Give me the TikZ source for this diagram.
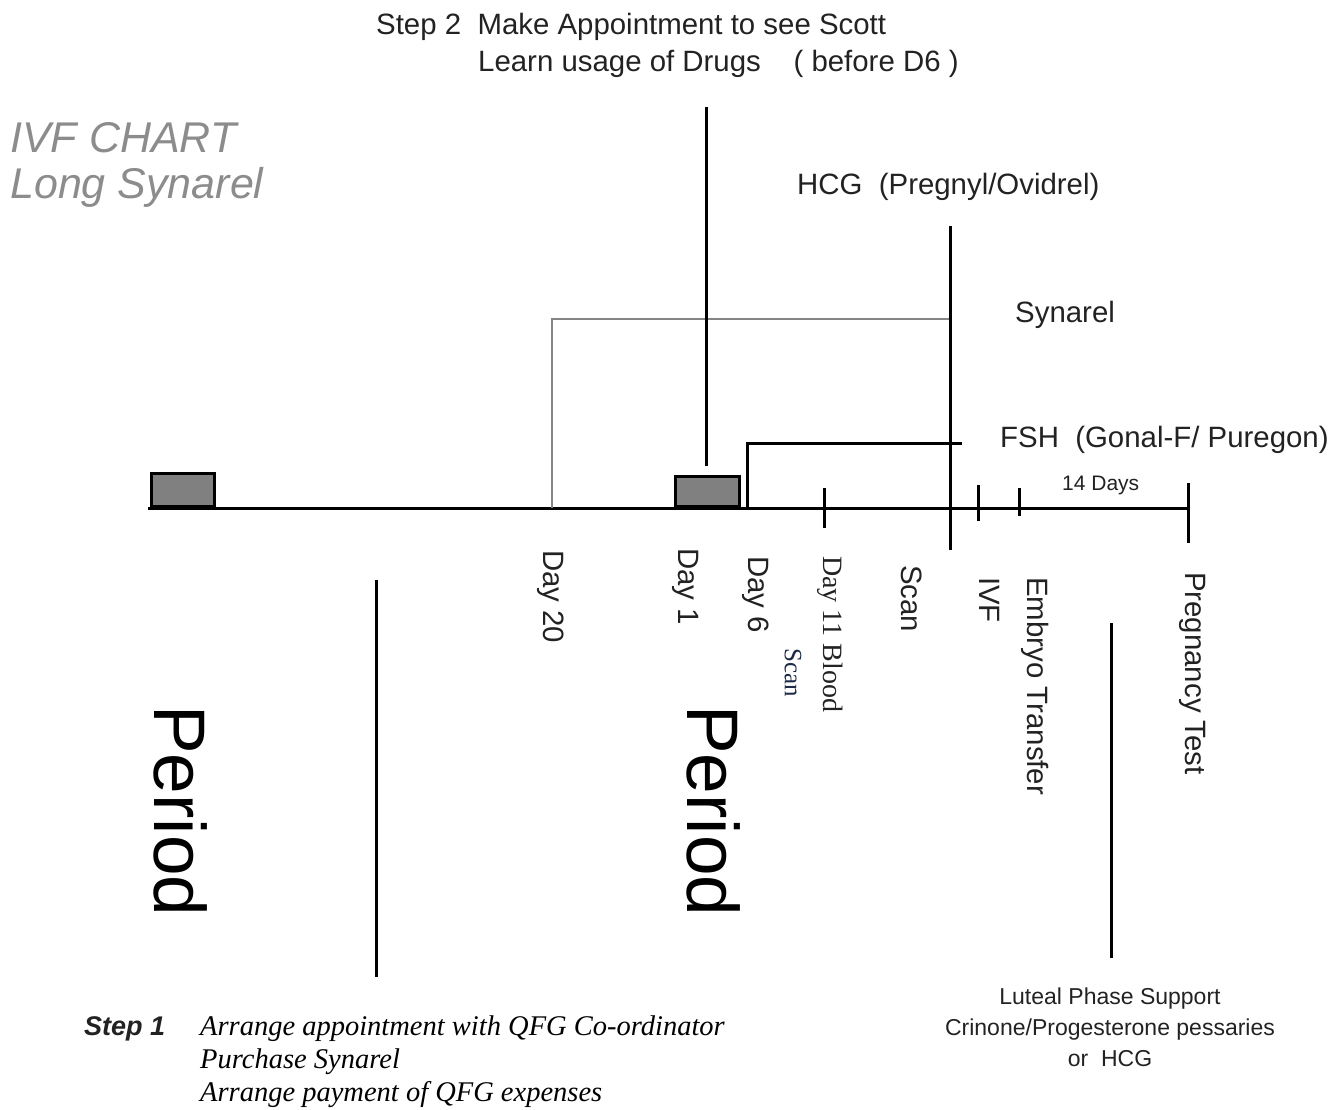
\documentclass[tikz,border=0pt]{standalone}
\usepackage{fontspec}
\setmainfont{Liberation Sans}
\newfontfamily\serifface{Liberation Serif}
\definecolor{txt}{HTML}{222222}
\definecolor{boxgray}{HTML}{808080}
\definecolor{linegray}{HTML}{858585}
\definecolor{titlegray}{HTML}{8C8C8C}
\definecolor{scanblue}{HTML}{1C2A48}
\begin{document}
\begin{tikzpicture}[x=1pt,y=-1pt,
  ln/.style={line width=3pt,draw=black},
  gl/.style={line width=2.6pt,draw=linegray},
  lbl/.style={font=\fontsize{29.4}{34}\selectfont,text=txt,inner sep=0pt},
  vlbl/.style={lbl,rotate=-90,anchor=west},
  small/.style={font=\fontsize{23}{31}\selectfont,text=txt,inner sep=0pt},
  bigp/.style={font=\fontsize{73}{80}\selectfont,text=black,inner sep=0pt,rotate=-90,anchor=west},
  s1line/.style={font=\serifface\fontsize{28.5}{33}\itshape\selectfont,text=black,inner sep=0pt,anchor=base west},
  title/.style={font=\fontsize{43}{48}\itshape\selectfont,text=titlegray,inner sep=0pt,anchor=base west},
  period/.style={draw=black,line width=3pt,fill=boxgray,inner sep=0pt,anchor=south west}]
\useasboundingbox (0,0) rectangle (1343,1110);

% title
\node[title] (title1) at (10,153) {IVF CHART};
\node[title] (title2) at (10,198) {Long Synarel};

% step 2
\node[lbl,anchor=base west] (step2a) at (376,35) {Step 2\ \ Make Appointment to see Scott};
\node[lbl,anchor=base west] (step2b) at (478,72) {Learn usage of Drugs\ \ \ \ ( before D6 )};

% drug labels
\node[lbl,anchor=base west] (hcg) at (797,195) {HCG\ \ (Pregnyl/Ovidrel)};
\node[lbl,anchor=base west] (syn) at (1015,322) {Synarel};
\node[lbl,anchor=base west] (fsh) at (1000,447) {FSH\ \ (Gonal-F/ Puregon)};
\node[small,font=\fontsize{21}{25}\selectfont,anchor=base west] (days14) at (1062,490) {14 Days};

% timeline
\coordinate (tl0) at (148,508);
\coordinate (tl1) at (1188,508);
\draw[ln] (tl0) -- (tl1);
\node[period,minimum width=63pt,minimum height=33pt] (per1) at (149.5,508) {};
\node[period,minimum width=64pt,minimum height=30pt] (per2) at (673.5,508) {};

% synarel (gray)
\coordinate (d20) at (552,508);
\coordinate (synL) at (552,319);
\coordinate (synR) at (950,319);
\draw[gl] (d20) -- (synL) -- (synR);

% step 2 line
\coordinate (s2top) at (706,107);
\coordinate (s2bot) at (706,466);
\draw[ln] (s2top) -- (s2bot);

% HCG line
\coordinate (hcgtop) at (950,226);
\coordinate (hcgbot) at (950,550);
\draw[ln] (hcgtop) -- (hcgbot);

% FSH line
\coordinate (d6) at (747,508);
\coordinate (fshL) at (747,443);
\coordinate (fshR) at (962,443);
\draw[ln] (d6) -- (fshL) -- (fshR);

% ticks
\draw[ln] (824,488) -- (824,528);
\draw[ln] (978,485) -- (978,521);
\draw[ln] (1019,488) -- (1019,516);
\draw[ln] (1188,483) -- (1188,543);

% rotated labels
\node[vlbl] (lday20) at (551,550) {Day 20};
\node[vlbl] (lday1) at (686,548) {Day 1};
\node[vlbl] (lday6) at (756,556) {Day 6};
\node[vlbl,font=\serifface\fontsize{28}{32}\selectfont] (lday11) at (830,556) {Day 11 Blood};
\node[vlbl,font=\serifface\fontsize{25}{30}\selectfont,text=scanblue] (lscan1) at (793,648) {Scan};
\node[vlbl] (lscan) at (912,565) {Scan};
\node[vlbl] (livf) at (990,577) {IVF};
\node[vlbl] (lemb) at (1035,577) {Embryo Transfer};
\node[vlbl] (lpreg) at (1193,572) {Pregnancy Test};

% periods
\node[bigp] (bp1) at (181,705) {Period};
\node[bigp] (bp2) at (714,705) {Period};
\coordinate (p1top) at (376,580);
\coordinate (p1bot) at (376,977);
\draw[ln] (p1top) -- (p1bot);

% luteal
\coordinate (lutop) at (1111,623);
\coordinate (lubot) at (1111,958);
\draw[ln] (lutop) -- (lubot);
\node[small,align=center,anchor=north] (luteal) at (1110,988) {Luteal Phase Support\\Crinone/Progesterone pessaries\\or\ \ HCG};

% step 1
\node[font=\fontsize{27}{32}\bfseries\itshape\selectfont,text=txt,inner sep=0pt,anchor=base west] (step1) at (84,1035) {Step 1};
\node[s1line] (step1a) at (200,1035) {Arrange appointment with QFG Co-ordinator};
\node[s1line] (step1b) at (200,1068) {Purchase Synarel};
\node[s1line] (step1c) at (200,1101) {Arrange payment of QFG expenses};
\end{tikzpicture}
\end{document}
